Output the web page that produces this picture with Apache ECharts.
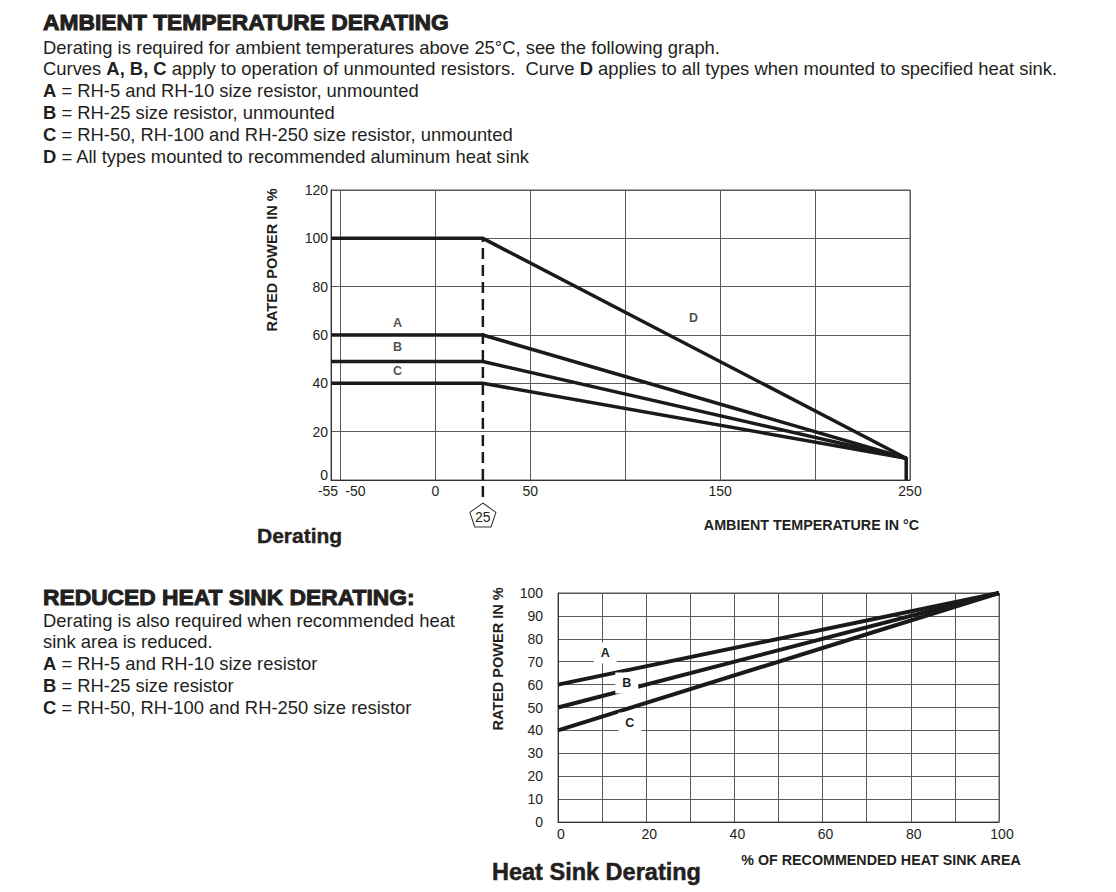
<!DOCTYPE html>
<html><head><meta charset="utf-8">
<script src="https://cdn.jsdelivr.net/npm/echarts@6/dist/echarts.min.js"></script>
<style>html,body{margin:0;padding:0;background:#fff}#c{width:1116px;height:892px}</style>
</head><body><div id="c"></div>
<script>
// ---------- Top chart: ambient temperature derating ----------
const tempLabelValues = [-55, -50, 0, 50, 150, 250];
const tempGridValues = [-50, 0, 50, 100, 150, 200, 250];
const curveD = [[-55, 100], [25, 100], [248, 9], [248, 0]];
const curveA = [[-55, 60], [25, 60], [248, 9]];
const curveB = [[-55, 49], [25, 49], [248, 9]];
const curveC = [[-55, 40], [25, 40], [248, 9]];
const kneeLine = [[25, -7], [25, 100]];
const kneeMarker = 25;
const topCurveNames = ['A', 'B', 'C', 'D'];
const topCurveLabelX = [-20, -20, -20, 136];
const topCurveLabelY = [65, 55, 45, 67];

// ---------- Bottom chart: heat sink derating ----------
const sinkA = [[0, 60], [100, 100]];
const sinkB = [[0, 50], [100, 100]];
const sinkC = [[0, 40], [100, 100]];
const sinkNames = ['A', 'B', 'C'];
const sinkLabelX = [10.7, 15.6, 16.3];
const sinkLabelY = [73.8, 60.7, 43.2];

// ---------- Texts ----------
const heading1 = 'AMBIENT TEMPERATURE DERATING';
const body1 = [
  'Derating is required for ambient temperatures above 25°C, see the following graph.',
  'Curves {b|A, B, C} apply to operation of unmounted resistors.  Curve {b|D} applies to all types when mounted to specified heat sink.',
  '{b|A} = RH-5 and RH-10 size resistor, unmounted',
  '{b|B} = RH-25 size resistor, unmounted',
  '{b|C} = RH-50, RH-100 and RH-250 size resistor, unmounted',
  '{b|D} = All types mounted to recommended aluminum heat sink'
];
const heading2 = 'REDUCED HEAT SINK DERATING:';
const body2 = [
  'Derating is also required when recommended heat',
  'sink area is reduced.',
  '{b|A} = RH-5 and RH-10 size resistor',
  '{b|B} = RH-25 size resistor',
  '{b|C} = RH-50, RH-100 and RH-250 size resistor'
];
const yTitle = 'RATED POWER IN %';
const xTitleTop = 'AMBIENT TEMPERATURE IN °C';
const xTitleBottom = '% OF RECOMMENDED HEAT SINK AREA';
const captionTop = 'Derating';
const captionBottom = 'Heat Sink Derating';

const FONT = "'Liberation Sans', Arial, Helvetica, sans-serif";
const INK = '#231f20';
const LINE = '#1a1a1a';
const GRID = '#5a5a5a';

const chart = echarts.init(document.getElementById('c'), null, {renderer: 'svg'});

function lineSeries(data, xi, w) {
  return {type: 'line', xAxisIndex: xi, yAxisIndex: xi, data: data, symbol: 'none', silent: true,
    lineStyle: {color: LINE, width: w, cap: 'butt', join: 'miter'}, z: 2, animation: false};
}
function txt(x, y, text, size, weight, extra) {
  return Object.assign({type: 'text', x: x, y: y, silent: true, style: Object.assign({
    text: text, fontSize: size, fontFamily: FONT, fontWeight: weight, fill: INK,
    verticalAlign: 'middle', align: 'left',
    rich: {b: {fontSize: size, fontFamily: FONT, fontWeight: 'bold', fill: INK}}
  }, extra || {})});
}

const graphics = [];
graphics.push(txt(43, 22, heading1, 22.8, 'bold', {stroke: INK, lineWidth: 1}));
body1.forEach((t, i) => graphics.push(txt(43, 47 + i * 21.8, t, 18.4, 'normal')));
graphics.push(txt(43, 597, heading2, 22.8, 'bold', {stroke: INK, lineWidth: 1}));
body2.forEach((t, i) => graphics.push(txt(43, 620 + i * 21.8, t, 18.4, 'normal')));
graphics.push(txt(257, 535, captionTop, 21, 'bold', {stroke: INK, lineWidth: 0.4}));
graphics.push(txt(492, 872, captionBottom, 23.5, 'bold', {stroke: INK, lineWidth: 0.5}));
graphics.push(txt(919, 525, xTitleTop, 14.3, 'bold', {align: 'right'}));
graphics.push(txt(881, 860, xTitleBottom, 14.3, 'bold', {align: 'center'}));
graphics.push(Object.assign(txt(0, 0, yTitle, 14.5, 'bold', {align: 'center'}), {x: 272, y: 260, rotation: Math.PI / 2}));
graphics.push(Object.assign(txt(0, 0, yTitle, 14.5, 'bold', {align: 'center'}), {x: 498, y: 659, rotation: Math.PI / 2}));

chart.setOption({
  animation: false,
  backgroundColor: '#fff',
  textStyle: {fontFamily: FONT},
  grid: [
    {left: 331, top: 190, width: 579, height: 290, show: true, borderColor: GRID, borderWidth: 1, backgroundColor: 'transparent'},
    {left: 558, top: 593, width: 441, height: 229, show: true, borderColor: GRID, borderWidth: 1, backgroundColor: 'transparent'}
  ],
  xAxis: [
    {gridIndex: 0, type: 'value', min: -55, max: 250,
      axisLine: {show: true, onZero: false, lineStyle: {color: '#333', width: 1}},
      axisTick: {show: false, customValues: tempGridValues},
      splitLine: {show: true, lineStyle: {color: GRID, width: 1}},
      axisLabel: {customValues: tempLabelValues, color: INK, fontSize: 14, margin: 4, fontFamily: FONT,
        formatter: v => v === -55 ? '{l|-55}' : (v === -50 ? '{r|-50}' : String(v)),
        rich: {l: {padding: [0, 6, 0, 0], fontSize: 14, color: INK}, r: {padding: [0, 0, 0, 30], fontSize: 14, color: INK}}}},
    {gridIndex: 1, type: 'value', min: 0, max: 100, interval: 10,
      axisLine: {show: true, onZero: false, lineStyle: {color: '#333', width: 1}},
      axisTick: {show: false},
      splitLine: {show: true, lineStyle: {color: GRID, width: 1}},
      axisLabel: {color: INK, fontSize: 14, margin: 5, fontFamily: FONT, padding: [0, 0, 0, 6],
        formatter: v => (v % 20 === 0 ? String(v) : '')}}
  ],
  yAxis: [
    {gridIndex: 0, type: 'value', min: 0, max: 120, interval: 20,
      axisLine: {show: true, onZero: false, lineStyle: {color: '#333', width: 1}},
      axisTick: {show: false},
      splitLine: {show: true, lineStyle: {color: GRID, width: 1}},
      axisLabel: {color: INK, fontSize: 14, margin: 3, fontFamily: FONT,
        formatter: v => v === 0 ? '{z|0}' : String(v),
        rich: {z: {padding: [0, 0, 10, 0], fontSize: 14, color: INK}}}},
    {gridIndex: 1, type: 'value', min: 0, max: 100, interval: 10,
      axisLine: {show: true, onZero: false, lineStyle: {color: '#333', width: 1}},
      axisTick: {show: false},
      splitLine: {show: true, lineStyle: {color: GRID, width: 1}},
      axisLabel: {color: INK, fontSize: 14, margin: 15, fontFamily: FONT}}
  ],
  graphic: graphics,
  series: [
    lineSeries(curveD, 0, 3.5),
    lineSeries(curveA, 0, 3.5),
    lineSeries(curveB, 0, 3.5),
    lineSeries(curveC, 0, 3.5),
    Object.assign(lineSeries(kneeLine, 0, 2.5), {clip: false,
      lineStyle: {color: LINE, width: 2.5, type: [11, 6]},
      markPoint: {silent: true, symbol: 'path://M12 0L24 9L19.5 23L4.5 23L0 9Z', symbolSize: [26, 24],
        symbolOffset: [0, 35], itemStyle: {color: '#fff', borderColor: '#333', borderWidth: 1},
        label: {show: true, color: INK, fontSize: 14, fontFamily: FONT, offset: [0, 2], formatter: String(kneeMarker)},
        data: [{coord: [kneeMarker, 0], value: kneeMarker}]}}),
    {type: 'scatter', xAxisIndex: 0, yAxisIndex: 0, symbolSize: 1, itemStyle: {color: 'rgba(0,0,0,0)'}, silent: true, z: 10,
      label: {show: true, position: 'inside', formatter: '{b}', color: INK, fontSize: 12.5, fontWeight: 'bold', fontFamily: FONT},
      data: topCurveNames.map((n, i) => ({name: n, value: [topCurveLabelX[i], topCurveLabelY[i]]}))},
    lineSeries(sinkA, 1, 4),
    lineSeries(sinkB, 1, 4),
    lineSeries(sinkC, 1, 4),
    {type: 'scatter', xAxisIndex: 1, yAxisIndex: 1, symbolSize: 1, itemStyle: {color: 'rgba(0,0,0,0)'}, silent: true, z: 10,
      label: {show: true, position: 'inside', formatter: '{b}', color: INK, fontSize: 12.5, fontWeight: 'bold', fontFamily: FONT,
        backgroundColor: '#ffffff', opacity: 1, padding: [4, 7]},
      data: sinkNames.map((n, i) => ({name: n, value: [sinkLabelX[i], sinkLabelY[i]]}))}
  ]
});
</script></body></html>
